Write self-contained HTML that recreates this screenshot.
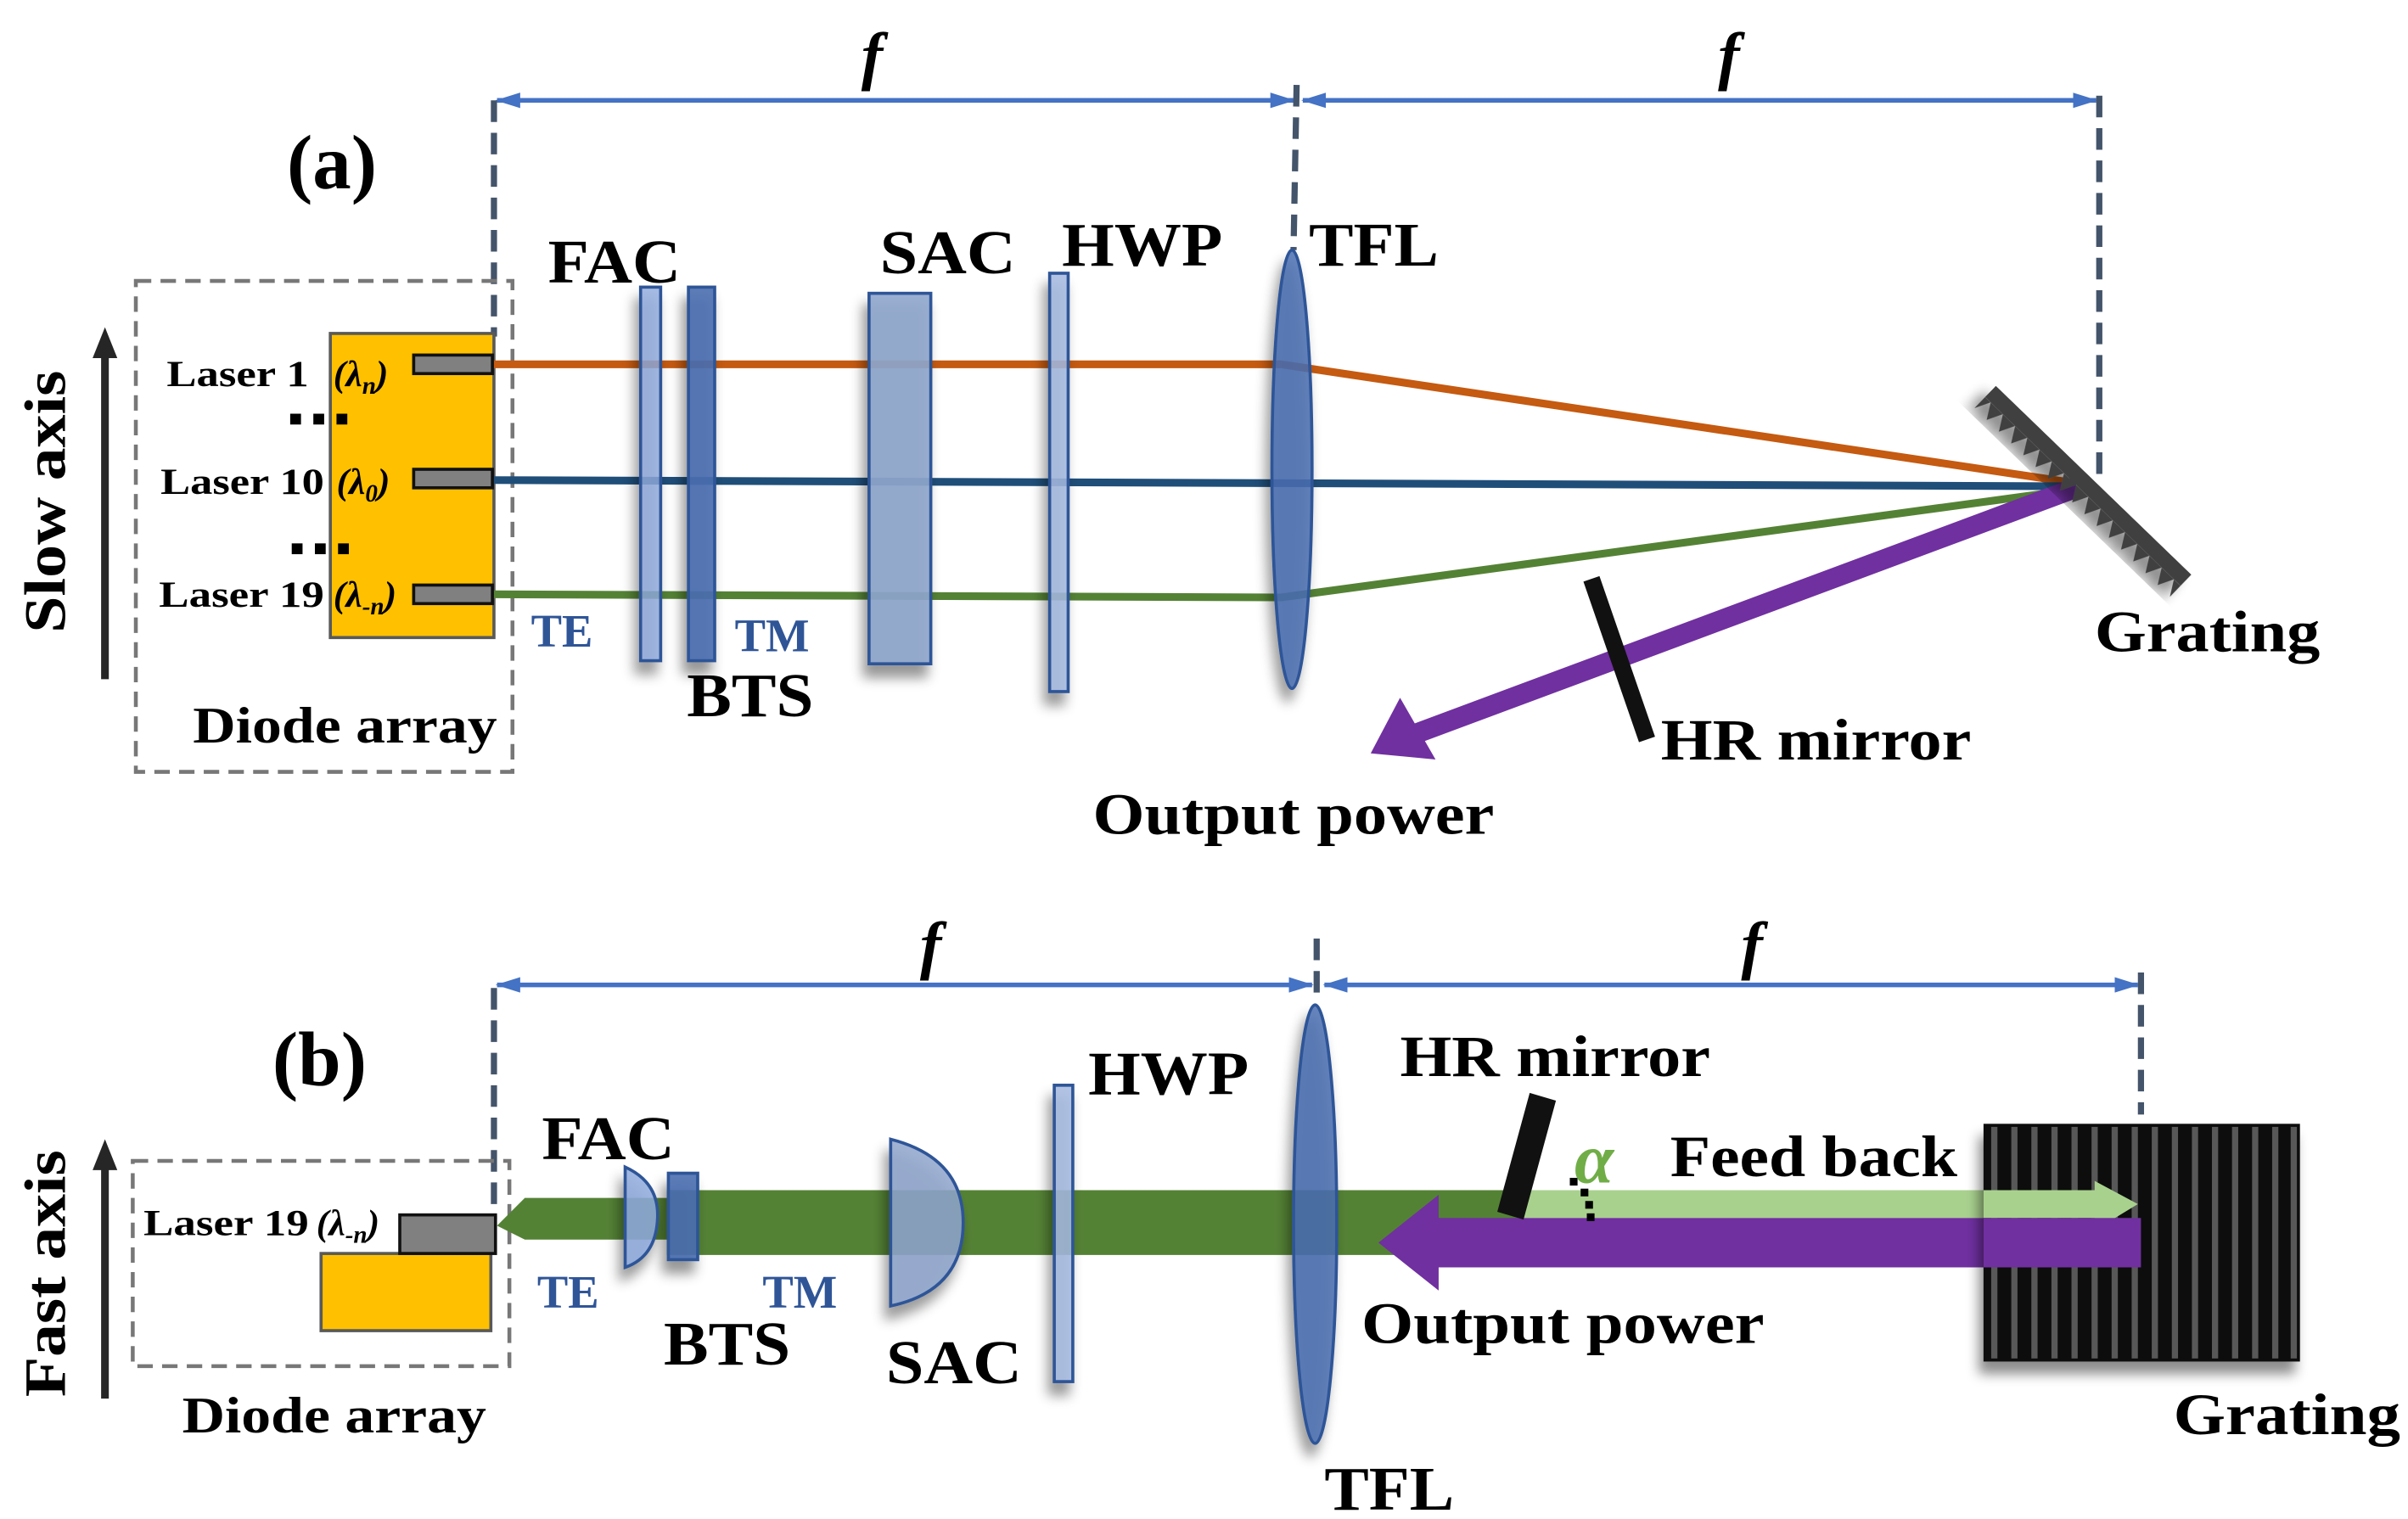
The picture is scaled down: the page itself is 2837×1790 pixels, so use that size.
<!DOCTYPE html>
<html><head><meta charset="utf-8"><style>
html,body{margin:0;padding:0;background:#fff}
svg{display:block}
text{font-family:"Liberation Serif",serif;font-weight:bold;fill:#000}
</style></head><body>
<svg width="2837" height="1790" viewBox="0 0 1560 984" preserveAspectRatio="none" xmlns="http://www.w3.org/2000/svg">
<defs>
<marker id="abs" markerWidth="16" markerHeight="10" refX="15" refY="5" orient="auto-start-reverse" markerUnits="userSpaceOnUse"><path d="M0,0 L16,5 L0,10 z" fill="#4472c4"/></marker>
<filter id="sh" x="-50%" y="-20%" width="200%" height="140%"><feDropShadow dx="-3" dy="8" stdDeviation="4" flood-color="#000" flood-opacity="0.45"/></filter>
</defs>

<!-- ============ (a) ============ -->
<line x1="322" y1="65" x2="838" y2="65" stroke="#4472c4" stroke-width="3" marker-start="url(#abs)" marker-end="url(#abs)"/>
<line x1="844" y1="65" x2="1358" y2="65" stroke="#4472c4" stroke-width="3" marker-start="url(#abs)" marker-end="url(#abs)"/>
<text x="565" y="50" font-size="42" font-style="italic" text-anchor="middle">f</text>
<text x="1120" y="50" font-size="42" font-style="italic" text-anchor="middle">f</text>
<g stroke="#44546a" stroke-width="4" stroke-dasharray="14,7">
<line x1="320" y1="65" x2="320" y2="218"/>
<line x1="840" y1="55" x2="838" y2="162"/>
<line x1="1360" y1="62" x2="1360" y2="312"/>
</g>
<text x="215" y="122" font-size="50" text-anchor="middle">(a)</text>

<line x1="68" y1="440" x2="68" y2="228" stroke="#262626" stroke-width="5"/>
<path d="M60,232 L68,212 L76,232 z" fill="#262626"/>
<text transform="translate(42,325) rotate(-90)" font-size="38" text-anchor="middle" textLength="170" lengthAdjust="spacingAndGlyphs">Slow axis</text>

<rect x="88" y="182" width="244" height="318" fill="none" stroke="#777" stroke-width="2.5" stroke-dasharray="10,6"/>
<rect x="214" y="216" width="106" height="197" fill="#ffc000" stroke="#595959" stroke-width="2"/>
<g fill="#808080" stroke="#111" stroke-width="2">
<rect x="268" y="230" width="51" height="12"/>
<rect x="268" y="304" width="51" height="12"/>
<rect x="268" y="379" width="51" height="12"/>
</g>
<text x="108" y="250" font-size="24" textLength="92" lengthAdjust="spacingAndGlyphs">Laser 1</text>
<text x="216" y="250" font-size="24" font-style="italic">(λ<tspan font-size="16" dy="5">n</tspan><tspan dy="-5">)</tspan></text>
<text x="104" y="320" font-size="24" textLength="106" lengthAdjust="spacingAndGlyphs">Laser 10</text>
<text x="218" y="320" font-size="24" font-style="italic">(λ<tspan font-size="16" dy="5">0</tspan><tspan dy="-5">)</tspan></text>
<text x="103" y="393" font-size="24" textLength="107" lengthAdjust="spacingAndGlyphs">Laser 19</text>
<text x="216" y="393" font-size="24" font-style="italic">(λ<tspan font-size="16" dy="5">-n</tspan><tspan dy="-5">)</tspan></text>
<g fill="#000"><rect x="188" y="268" width="7" height="7"/><rect x="203" y="268" width="7" height="7"/><rect x="218" y="268" width="7" height="7"/>
<rect x="189" y="352" width="7" height="7"/><rect x="204" y="352" width="7" height="7"/><rect x="219" y="352" width="7" height="7"/></g>
<text x="125" y="481" font-size="33" textLength="197" lengthAdjust="spacingAndGlyphs">Diode array</text>

<polyline points="320,236 830,236 1345,313" fill="none" stroke="#c55a11" stroke-width="5"/>
<line x1="320" y1="311" x2="1345" y2="315" stroke="#1f4e79" stroke-width="5"/>
<polyline points="320,385 830,387 1345,317" fill="none" stroke="#548235" stroke-width="5"/>
<line x1="1345" y1="316" x2="918" y2="475" stroke="#7030a0" stroke-width="13"/>
<path d="M888,488 L907,452 L930,492 z" fill="#7030a0"/>

<g filter="url(#sh)">
<rect x="415" y="186" width="13" height="242" fill="#8faadc" fill-opacity="0.8" stroke="#2f5597" stroke-width="2"/>
<rect x="446" y="186" width="17" height="242" fill="#4a6eb0" fill-opacity="0.9" stroke="#2f5597" stroke-width="2"/>
<rect x="563" y="190" width="40" height="240" fill="#8fa6cc" fill-opacity="0.9" stroke="#2f5597" stroke-width="2"/>
<rect x="680" y="177" width="12" height="271" fill="#a5b8df" fill-opacity="0.85" stroke="#2f5597" stroke-width="2"/>
<ellipse cx="837" cy="304" rx="13" ry="142" fill="#4a6eb0" fill-opacity="0.85" stroke="#2f5597" stroke-width="2"/>
</g>
<text x="355" y="183" font-size="40" textLength="86" lengthAdjust="spacingAndGlyphs">FAC</text>
<text x="570" y="177" font-size="40" textLength="88" lengthAdjust="spacingAndGlyphs">SAC</text>
<text x="688" y="172" font-size="40" textLength="104" lengthAdjust="spacingAndGlyphs">HWP</text>
<text x="848" y="172" font-size="40" textLength="84" lengthAdjust="spacingAndGlyphs">TFL</text>
<text x="445" y="464" font-size="40" textLength="82" lengthAdjust="spacingAndGlyphs">BTS</text>
<text x="344" y="419" font-size="30" style="fill:#2f5597">TE</text>
<text x="476" y="422" font-size="30" style="fill:#2f5597">TM</text>

<g transform="translate(1293,250) rotate(44)" filter="url(#sh)">
<rect x="0" y="0" width="176" height="10" fill="#404040"/>
<path d="M0,10 L0,20 L5,10 L11,20 L16,10 L22,20 L27,10 L33,20 L38,10 L44,20 L49,10 L55,20 L60,10 L66,20 L71,10 L77,20 L82,10 L88,20 L93,10 L99,20 L104,10 L110,20 L115,10 L121,20 L126,10 L132,20 L137,10 L143,20 L148,10 L154,20 L159,10 L165,20 L170,10 L176,20 L176,10 z" fill="#404040"/>
</g>
<line x1="1031" y1="375" x2="1067" y2="479" stroke="#111" stroke-width="11"/>
<text x="1076" y="492" font-size="38" textLength="201" lengthAdjust="spacingAndGlyphs">HR mirror</text>
<text x="1357" y="422" font-size="38" textLength="146" lengthAdjust="spacingAndGlyphs">Grating</text>
<text x="708" y="540" font-size="38" textLength="260" lengthAdjust="spacingAndGlyphs">Output power</text>

<!-- ============ (b) ============ -->
<line x1="322" y1="638" x2="850" y2="638" stroke="#4472c4" stroke-width="3" marker-start="url(#abs)" marker-end="url(#abs)"/>
<line x1="858" y1="638" x2="1385" y2="638" stroke="#4472c4" stroke-width="3" marker-start="url(#abs)" marker-end="url(#abs)"/>
<text x="603" y="626" font-size="42" font-style="italic" text-anchor="middle">f</text>
<text x="1135" y="626" font-size="42" font-style="italic" text-anchor="middle">f</text>
<g stroke="#44546a" stroke-width="4" stroke-dasharray="14,7">
<line x1="320" y1="640" x2="320" y2="790"/>
<line x1="853" y1="608" x2="853" y2="650"/>
<line x1="1387" y1="630" x2="1387" y2="722"/>
</g>
<text x="207" y="703" font-size="50" text-anchor="middle">(b)</text>

<line x1="68" y1="906" x2="68" y2="755" stroke="#262626" stroke-width="5"/>
<path d="M60,758 L68,738 L76,758 z" fill="#262626"/>
<text transform="translate(42,825) rotate(-90)" font-size="38" text-anchor="middle" textLength="160" lengthAdjust="spacingAndGlyphs">Fast axis</text>

<rect x="86" y="752" width="244" height="133" fill="none" stroke="#777" stroke-width="2.5" stroke-dasharray="10,6"/>
<rect x="208" y="812" width="110" height="50" fill="#ffc000" stroke="#595959" stroke-width="2"/>
<rect x="259" y="787" width="62" height="25" fill="#808080" stroke="#111" stroke-width="2"/>
<text x="93" y="800" font-size="24" textLength="107" lengthAdjust="spacingAndGlyphs">Laser 19</text>
<text x="205" y="800" font-size="24" font-style="italic">(λ<tspan font-size="16" dy="5">-n</tspan><tspan dy="-5">)</tspan></text>
<text x="118" y="928" font-size="33" textLength="197" lengthAdjust="spacingAndGlyphs">Diode array</text>

<path d="M322,794 L340,776 L432,776 L432,771 L985,771 L985,813 L432,813 L432,803 L340,803 z" fill="#548235"/>
<rect x="985" y="771" width="372" height="18" fill="#a9d18e"/>
<rect x="930" y="789" width="455" height="32" fill="#7030a0"/>
<path d="M893,805 L932,774 L932,836 z" fill="#7030a0"/>

<g filter="url(#sh)">
<path d="M405,756 Q427,766 426,789 Q425,814 405,821 z" fill="#8faadc" fill-opacity="0.85" stroke="#2f5597" stroke-width="2"/>
<rect x="433" y="760" width="19" height="56" fill="#4a6eb0" fill-opacity="0.9" stroke="#2f5597" stroke-width="2"/>
<path d="M577,738 Q624,750 624,792 Q624,836 577,846 z" fill="#8fa6cc" fill-opacity="0.85" stroke="#2f5597" stroke-width="2"/>
<rect x="683" y="703" width="12" height="192" fill="#a5b8df" fill-opacity="0.85" stroke="#2f5597" stroke-width="2"/>
<ellipse cx="852" cy="793" rx="14" ry="142" fill="#4a6eb0" fill-opacity="0.85" stroke="#2f5597" stroke-width="2"/>
</g>
<path d="M991,708 L1008,713 L987,790 L970,785 z" fill="#111"/>
<g fill="#000"><rect x="1017" y="763" width="5" height="5"/><rect x="1024" y="770" width="5" height="5"/><rect x="1027" y="778" width="5" height="5"/><rect x="1028" y="786" width="5" height="5"/></g>
<text x="1020" y="766" font-size="46" font-style="italic" font-weight="normal" style="fill:#70ad47">α</text>

<g filter="url(#sh)">
<rect x="1285" y="728" width="205" height="154" fill="#111"/>
<g fill="#595959">
<rect x="1290" y="730" width="4" height="150"/><rect x="1303" y="730" width="4" height="150"/><rect x="1316" y="730" width="4" height="150"/><rect x="1329" y="730" width="4" height="150"/><rect x="1342" y="730" width="4" height="150"/><rect x="1355" y="730" width="4" height="150"/><rect x="1368" y="730" width="4" height="150"/><rect x="1381" y="730" width="4" height="150"/><rect x="1394" y="730" width="4" height="150"/><rect x="1407" y="730" width="4" height="150"/><rect x="1420" y="730" width="4" height="150"/><rect x="1433" y="730" width="4" height="150"/><rect x="1446" y="730" width="4" height="150"/><rect x="1459" y="730" width="4" height="150"/><rect x="1472" y="730" width="4" height="150"/><rect x="1484" y="730" width="4" height="150"/>
</g>
</g>
<path d="M1285,771 L1357,771 L1357,765 L1385,780 L1357,797 L1357,789 L1285,789 z" fill="#a9d18e"/>
<rect x="1285" y="789" width="102" height="32" fill="#7030a0"/>

<text x="351" y="751" font-size="40" textLength="86" lengthAdjust="spacingAndGlyphs">FAC</text>
<text x="705" y="709" font-size="40" textLength="104" lengthAdjust="spacingAndGlyphs">HWP</text>
<text x="430" y="884" font-size="40" textLength="82" lengthAdjust="spacingAndGlyphs">BTS</text>
<text x="574" y="896" font-size="40" textLength="88" lengthAdjust="spacingAndGlyphs">SAC</text>
<text x="348" y="847" font-size="30" style="fill:#2f5597">TE</text>
<text x="494" y="847" font-size="30" style="fill:#2f5597">TM</text>
<text x="858" y="978" font-size="40" textLength="84" lengthAdjust="spacingAndGlyphs">TFL</text>
<text x="907" y="697" font-size="38" textLength="201" lengthAdjust="spacingAndGlyphs">HR mirror</text>
<text x="1082" y="762" font-size="38" textLength="186" lengthAdjust="spacingAndGlyphs">Feed back</text>
<text x="882" y="870" font-size="38" textLength="261" lengthAdjust="spacingAndGlyphs">Output power</text>
<text x="1408" y="929" font-size="38" textLength="147" lengthAdjust="spacingAndGlyphs">Grating</text>
</svg>
</body></html>
